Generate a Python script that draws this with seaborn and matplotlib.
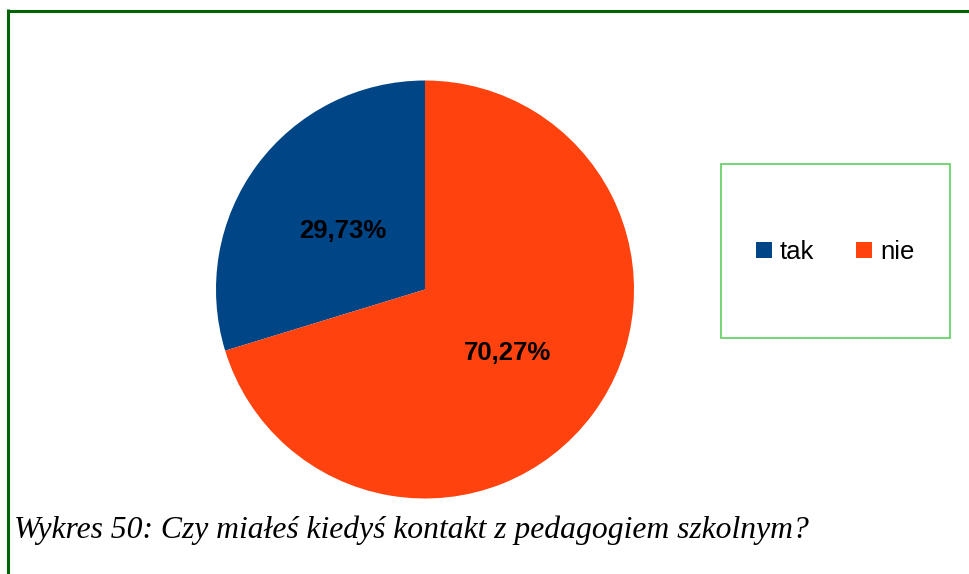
import matplotlib
matplotlib.use("Agg")
import matplotlib.pyplot as plt
from matplotlib.lines import Line2D
from matplotlib.patches import Rectangle
import seaborn as sns

# Survey answers and their shares (percent)
answers = ["tak", "nie"]
shares = [29.73, 70.27]
caption = "Wykres 50: Czy miałeś kiedyś kontakt z pedagogiem szkolnym?"

sns.set_theme(style="white")
plt.rcParams["font.family"] = ["Liberation Sans", "DejaVu Sans"]
plt.rcParams["text.color"] = "black"
colors = sns.color_palette(["#004586", "#ff420e"])

W, H = 970, 574
fig = plt.figure(figsize=(W / 100, H / 100), dpi=100)
fig.patch.set_facecolor("white")

# Pie area: centre (425, 289) px, radius 209 px
cx, cy, r = 425, 289.5, 209
ax = fig.add_axes([(cx - r) / W, (H - cy - r) / H, 2 * r / W, 2 * r / H])
wedges, _, autotexts = ax.pie(
    shares, colors=colors, startangle=90, counterclock=True,
    radius=1, pctdistance=0.49,
    autopct=lambda p: f"{p:.2f}".replace(".", ",") + "%",
    wedgeprops=dict(linewidth=0),
    textprops=dict(fontsize=18.5, fontweight="bold", color="black"),
)
for t in autotexts:
    x, y = t.get_position()
    t.set_position((x, y - 0.012))
ax.set_xlim(-1, 1)
ax.set_ylim(-1, 1)
ax.set_aspect("equal")
ax.axis("off")

# Legend with its own framed box
fig.add_artist(Rectangle((721 / W, (H - 338) / H), (950 - 721) / W, (338 - 164) / H,
                         transform=fig.transFigure, fill=False,
                         edgecolor="#5ccf5c", linewidth=1.2))
handles = [Line2D([], [], marker="s", linestyle="none", markersize=11.8,
                  markerfacecolor=c, markeredgewidth=0) for c in colors]
fig.legend(handles, answers, loc="center", bbox_to_anchor=(835 / W, (H - 252) / H),
           ncol=2, frameon=False, fontsize=18.5, handlelength=0.65,
           handletextpad=0.3, columnspacing=1.6, borderpad=0, labelcolor="black")

# Caption
fig.text(14 / W, (H - 538) / H, caption, family=["Liberation Serif", "DejaVu Serif"],
         style="italic", fontsize=22.8, va="baseline", ha="left", color="black")

# Page frame (top and left edges)
frame = "#006400"
fig.add_artist(Line2D([7 / W, 1], [(H - 10.5) / H] * 2, transform=fig.transFigure,
                      color=frame, linewidth=2.2, solid_capstyle="butt"))
fig.add_artist(Line2D([8.5 / W] * 2, [0, (H - 9) / H], transform=fig.transFigure,
                      color=frame, linewidth=2.2, solid_capstyle="butt"))

fig.savefig("out.png", dpi=100, facecolor="white")
